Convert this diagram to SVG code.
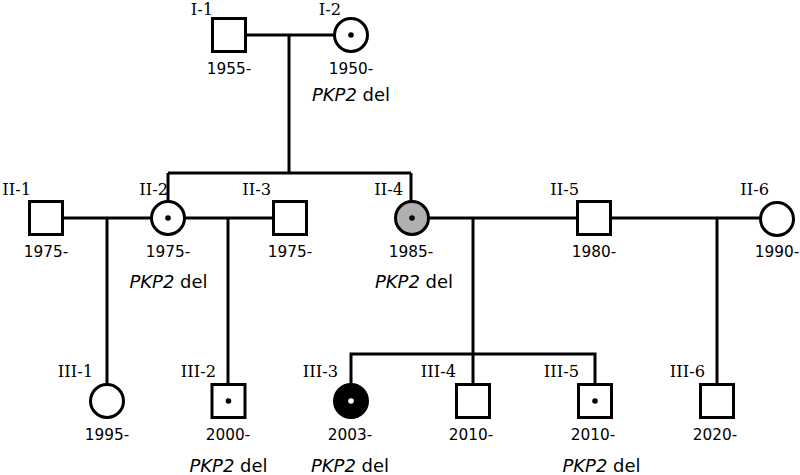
<svg xmlns="http://www.w3.org/2000/svg" width="800" height="475" viewBox="0 0 800 475">
<style>
.sym{fill:#fff;stroke:#000;stroke-width:3}
.aff{fill:#000;stroke:#000;stroke-width:3}
.gry{fill:#b0b0b0;stroke:#000;stroke-width:3}
.ln{fill:none;stroke:#000;stroke-width:3}
.lbl{font-family:"DejaVu Serif",serif;font-size:16.3px;text-anchor:end;fill:#000}
.yr{font-family:"DejaVu Sans",sans-serif;font-size:15.3px;text-anchor:middle;fill:#000}
.gt{font-family:"DejaVu Sans",sans-serif;font-size:18px;text-anchor:middle;fill:#000}
.it{font-style:italic}
</style>
<rect width="800" height="475" fill="#fff"/>
<g id="connectors">
<path class="ln" d="M247 35H334M289 35V173"/>
<path class="ln" d="M168 173H411M168 173V201M411 173V201"/>
<path class="ln" d="M63 218H151M107 218V384"/>
<path class="ln" d="M185 218H273M228 218V384"/>
<path class="ln" d="M429 218H577M473 218V384"/>
<path class="ln" d="M612 218H760M717 218V384"/>
<path class="ln" d="M351 384V354H595V384"/>
</g>
<g id="I-1"><rect class="sym" x="212.5" y="18.5" width="33" height="33"/><text class="lbl" x="213" y="14.5">I-1</text><text class="yr" x="229" y="74">1955-</text></g>
<g id="I-2"><circle class="sym" cx="351" cy="35" r="16.5"/><circle cx="351" cy="35" r="2.8"/><text class="lbl" x="341" y="14.5">I-2</text><text class="yr" x="351" y="74">1950-</text><text class="gt" x="351" y="101"><tspan class="it">PKP2</tspan> del</text></g>
<g id="II-1"><rect class="sym" x="29.5" y="201.5" width="33" height="33"/><text class="lbl" x="31" y="195">II-1</text><text class="yr" x="46" y="257">1975-</text></g>
<g id="II-2"><circle class="sym" cx="168" cy="218" r="16.5"/><circle cx="168" cy="218" r="2.8"/><text class="lbl" x="168" y="195">II-2</text><text class="yr" x="168" y="257">1975-</text><text class="gt" x="168.5" y="288"><tspan class="it">PKP2</tspan> del</text></g>
<g id="II-3"><rect class="sym" x="273.5" y="201.5" width="33" height="33"/><text class="lbl" x="271" y="195">II-3</text><text class="yr" x="290" y="257">1975-</text></g>
<g id="II-4"><circle class="gry" cx="412" cy="218" r="16.5"/><circle cx="412" cy="218" r="2.8"/><text class="lbl" x="403" y="195">II-4</text><text class="yr" x="411" y="257">1985-</text><text class="gt" x="414" y="288"><tspan class="it">PKP2</tspan> del</text></g>
<g id="II-5"><rect class="sym" x="577.5" y="201.5" width="33" height="33"/><text class="lbl" x="579" y="195">II-5</text><text class="yr" x="594" y="257">1980-</text></g>
<g id="II-6"><circle class="sym" cx="777" cy="219" r="16.5"/><text class="lbl" x="769" y="195">II-6</text><text class="yr" x="777" y="257">1990-</text></g>
<g id="III-1"><circle class="sym" cx="107" cy="401" r="16.5"/><text class="lbl" x="93" y="377">III-1</text><text class="yr" x="107" y="440">1995-</text></g>
<g id="III-2"><rect class="sym" x="212" y="384.5" width="33" height="33"/><circle cx="228.5" cy="401" r="2.8"/><text class="lbl" x="216" y="377">III-2</text><text class="yr" x="228" y="440">2000-</text><text class="gt" x="228.5" y="472"><tspan class="it">PKP2</tspan> del</text></g>
<g id="III-3"><circle class="aff" cx="351" cy="401" r="16.5"/><circle cx="351" cy="401" r="2.8" fill="#fff"/><text class="lbl" x="338" y="377">III-3</text><text class="yr" x="350" y="440">2003-</text><text class="gt" x="350" y="472"><tspan class="it">PKP2</tspan> del</text></g>
<g id="III-4"><rect class="sym" x="456.5" y="384.5" width="33" height="33"/><text class="lbl" x="456" y="377">III-4</text><text class="yr" x="471" y="440">2010-</text></g>
<g id="III-5"><rect class="sym" x="578.5" y="384.5" width="33" height="33"/><circle cx="595" cy="401" r="2.8"/><text class="lbl" x="579" y="377">III-5</text><text class="yr" x="593" y="440">2010-</text><text class="gt" x="601.5" y="472"><tspan class="it">PKP2</tspan> del</text></g>
<g id="III-6"><rect class="sym" x="700.5" y="384.5" width="33" height="33"/><text class="lbl" x="705" y="377">III-6</text><text class="yr" x="715" y="440">2020-</text></g>
</svg>
